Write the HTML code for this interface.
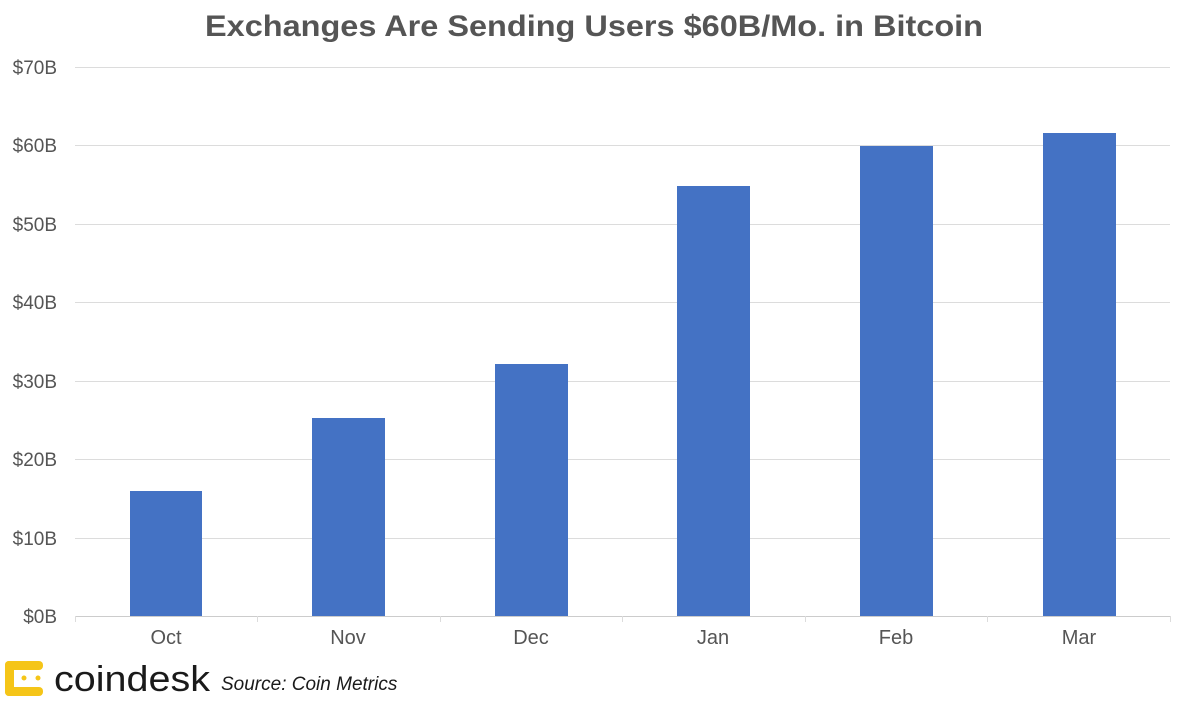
<!DOCTYPE html>
<html><head><meta charset="utf-8"><style>
html,body{margin:0;padding:0;background:#fff;}
svg{display:block;font-family:"Liberation Sans",Arial,sans-serif;}
</style></head><body>
<svg width="1177" height="701" viewBox="0 0 1177 701">
<text x="594" y="36" text-anchor="middle" font-size="30" font-weight="bold" fill="#555" textLength="778" lengthAdjust="spacingAndGlyphs">Exchanges Are Sending Users $60B/Mo. in Bitcoin</text>
<g stroke="#dcdcdc" stroke-width="1">
<line x1="75" x2="1170" y1="67.5" y2="67.5"/>
<line x1="75" x2="1170" y1="145.5" y2="145.5"/>
<line x1="75" x2="1170" y1="224.5" y2="224.5"/>
<line x1="75" x2="1170" y1="302.5" y2="302.5"/>
<line x1="75" x2="1170" y1="381.5" y2="381.5"/>
<line x1="75" x2="1170" y1="459.5" y2="459.5"/>
<line x1="75" x2="1170" y1="538.5" y2="538.5"/>
<line x1="75" x2="1170" y1="616.5" y2="616.5" stroke="#ccc"/>
<line x1="75.5" x2="75.5" y1="616" y2="622"/>
<line x1="257.5" x2="257.5" y1="616" y2="622"/>
<line x1="440.5" x2="440.5" y1="616" y2="622"/>
<line x1="622.5" x2="622.5" y1="616" y2="622"/>
<line x1="805.5" x2="805.5" y1="616" y2="622"/>
<line x1="987.5" x2="987.5" y1="616" y2="622"/>
<line x1="1170.5" x2="1170.5" y1="616" y2="622"/>
</g>
<g font-size="19" fill="#555" text-anchor="end">
<text x="57" y="74">$70B</text>
<text x="57" y="152">$60B</text>
<text x="57" y="231">$50B</text>
<text x="57" y="309">$40B</text>
<text x="57" y="388">$30B</text>
<text x="57" y="466">$20B</text>
<text x="57" y="545">$10B</text>
<text x="57" y="623">$0B</text>
</g>
<g fill="#4472c4">
<rect x="130" y="491" width="72" height="125"/>
<rect x="312" y="418" width="73" height="198"/>
<rect x="495" y="364" width="73" height="252"/>
<rect x="677" y="186" width="73" height="430"/>
<rect x="860" y="146" width="73" height="470"/>
<rect x="1043" y="133" width="73" height="483"/>
</g>
<g font-size="20" fill="#555" text-anchor="middle">
<text x="166" y="644">Oct</text>
<text x="348" y="644">Nov</text>
<text x="531" y="644">Dec</text>
<text x="713" y="644">Jan</text>
<text x="896" y="644">Feb</text>
<text x="1079" y="644">Mar</text>
</g>
<g fill="#f5c518">
<rect x="5" y="661" width="9" height="35" rx="4"/>
<rect x="5" y="661" width="38" height="9" rx="4"/>
<rect x="5" y="687" width="38" height="9" rx="4"/>
<circle cx="24" cy="678" r="2.5"/><circle cx="38" cy="678" r="2.5"/>
</g>
<text x="54" y="691" font-size="36" fill="#1a1a1a" textLength="156" lengthAdjust="spacingAndGlyphs">coindesk</text>
<text x="221" y="690" font-size="19" font-style="italic" fill="#1a1a1a">Source: Coin Metrics</text>
</svg>
</body></html>
